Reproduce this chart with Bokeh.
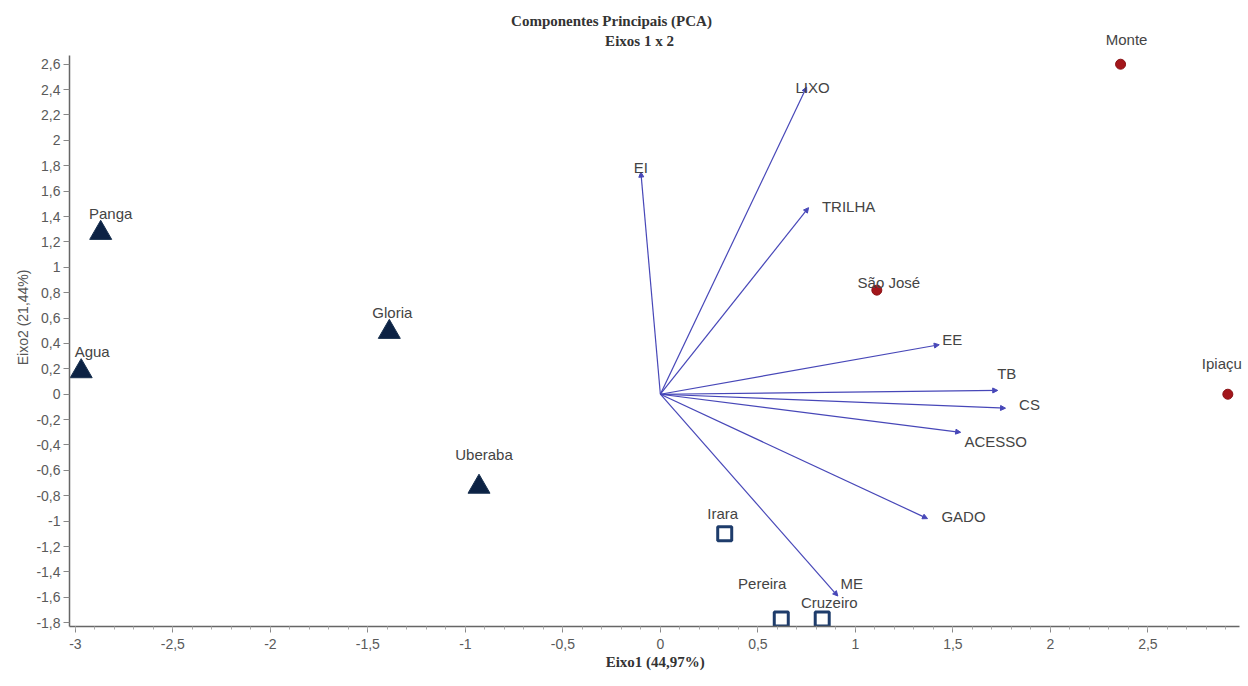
from bokeh.plotting import figure
from bokeh.models import (ColumnDataSource, Arrow, NormalHead, FixedTicker, Range1d,
                          CustomJSTickFormatter, Label, LabelSet)
from bokeh.embed import file_html
from bokeh.resources import INLINE
from bokeh.core.properties import value

# ---------------- data ----------------
# sites (scores)
site_names = ["Monte", "Ipiaçu", "São José", "Panga", "Gloria", "Agua", "Uberaba",
              "Irara", "Pereira", "Cruzeiro"]
site_x = [2.36, 2.91, 1.11, -2.87, -1.39, -2.97, -0.93, 0.33, 0.62, 0.83]
site_y = [2.60, 0.00, 0.82, 1.27, 0.49, 0.18, -0.73, -1.10, -1.77, -1.77]
site_group = ["circle", "circle", "circle", "tri", "tri", "tri", "tri", "trap", "trap", "trap"]

# variables (loadings)
var_names = ["LIXO", "EI", "TRILHA", "EE", "TB", "CS", "ACESSO", "GADO", "ME"]
var_x = [0.75, -0.10, 0.76, 1.43, 1.73, 1.77, 1.54, 1.37, 0.91]
var_y = [2.42, 1.75, 1.47, 0.39, 0.03, -0.11, -0.30, -0.98, -1.59]

x_ticks = [-3, -2.5, -2, -1.5, -1, -0.5, 0, 0.5, 1, 1.5, 2, 2.5]
y_ticks = [-1.8, -1.6, -1.4, -1.2, -1, -0.8, -0.6, -0.4, -0.2, 0, 0.2, 0.4, 0.6, 0.8,
           1, 1.2, 1.4, 1.6, 1.8, 2, 2.2, 2.4, 2.6]

# ---------------- layout / style ----------------
site_off = {  # label pixel offsets (dx, dy downward)
    "Monte": (6, -25), "Ipiaçu": (-6, -31), "São José": (12, -8), "Panga": (10, -20),
    "Gloria": (3, -20), "Agua": (11, -20), "Uberaba": (5, -32), "Irara": (-2, -20),
    "Pereira": (-19, -35), "Cruzeiro": (7, -16),
}
var_off = {
    "LIXO": (6, 0), "EI": (0, -5), "TRILHA": (40, -1), "EE": (13, -5), "TB": (9, -17),
    "CS": (24, -4), "ACESSO": (35, 9), "GADO": (36, -2), "ME": (14, -13),
}

FONT = "Liberation Sans"
SERIF = "Liberation Serif"
ARROW_C = "#4747b8"

X_BOUNDS = (-3.03, 2.97)
Y_BOUNDS = (-1.83, 2.67)

p = figure(width=1248, height=672, output_backend="svg", toolbar_location=None,
           x_range=Range1d(X_BOUNDS[0], 3.016), y_range=Range1d(Y_BOUNDS[0], 3.102),
           min_border_left=69, min_border_right=0, min_border_top=0, min_border_bottom=40)
p.title.visible = False
p.background_fill_color = "white"
p.border_fill_color = "white"
p.outline_line_color = None
p.grid.grid_line_color = None

# titles (inside the frame, screen units from the frame's bottom-left)
p.add_layout(Label(x=542, y=606, x_units="screen", y_units="screen",
                   text="Componentes Principais (PCA)", text_font=SERIF, text_font_size="15px",
                   text_font_style="bold", text_color="#333333",
                   text_align="center", text_baseline="middle"))
p.add_layout(Label(x=570, y=586, x_units="screen", y_units="screen",
                   text="Eixos 1 x 2", text_font=SERIF, text_font_size="15px",
                   text_font_style="bold", text_color="#333333",
                   text_align="center", text_baseline="middle"))

fmt = CustomJSTickFormatter(code="return tick.toFixed(1).replace('.', ',').replace(/,0$/, '');")

p.xaxis.ticker = FixedTicker(ticks=x_ticks, minor_ticks=[round(-3 + 0.1 * i, 1) for i in range(60)])
p.yaxis.ticker = FixedTicker(ticks=y_ticks)
p.xaxis.bounds = X_BOUNDS
p.yaxis.bounds = Y_BOUNDS
p.xaxis.formatter = fmt
p.yaxis.formatter = fmt
for ax in (p.xaxis, p.yaxis):
    ax.axis_line_color = "#666666"
    ax.axis_line_width = 1.5
    ax.major_tick_line_color = "#888888"
    ax.minor_tick_line_color = "#aaaaaa"
    ax.major_label_text_font = FONT
    ax.major_label_text_font_size = "14px"
    ax.major_label_text_color = "#5a5a5a"
    ax.major_tick_out = 6
    ax.major_tick_in = 0
    ax.minor_tick_out = 3
    ax.minor_tick_in = 0
p.yaxis.minor_tick_line_color = None
p.xaxis.major_label_standoff = 6
p.yaxis.major_label_standoff = 3

p.xaxis.axis_label = "Eixo1   (44,97%)"
p.xaxis.axis_label_text_font = SERIF
p.xaxis.axis_label_text_font_style = "bold"
p.xaxis.axis_label_text_font_size = "15px"
p.xaxis.axis_label_text_color = "#333333"
p.xaxis.axis_label_standoff = 2

p.yaxis.axis_label = "Eixo2   (21,44%)"
p.yaxis.axis_label_text_font = FONT
p.yaxis.axis_label_text_font_style = "normal"
p.yaxis.axis_label_text_font_size = "14px"
p.yaxis.axis_label_text_color = "#555555"
p.yaxis.axis_label_standoff = 2

# arrows
asrc = ColumnDataSource(dict(x0=[0] * len(var_x), y0=[0] * len(var_y), x1=var_x, y1=var_y))
p.add_layout(Arrow(source=asrc, x_start="x0", y_start="y0", x_end="x1", y_end="y1",
                   line_color=ARROW_C, line_width=1.2,
                   end=NormalHead(size=5, fill_color=ARROW_C, line_color=ARROW_C)))

vsrc = ColumnDataSource(dict(x=var_x, y=var_y, t=var_names,
                             dx=[var_off[n][0] for n in var_names],
                             dy=[-var_off[n][1] for n in var_names]))
p.add_layout(LabelSet(x="x", y="y", text="t", source=vsrc, x_offset="dx", y_offset="dy",
                      text_font=value(FONT), text_font_size="15px", text_color="#444444",
                      text_align="center", text_baseline="middle"))

# sites
def sub(group):
    idx = [i for i, g in enumerate(site_group) if g == group]
    return ColumnDataSource(dict(x=[site_x[i] for i in idx], y=[site_y[i] for i in idx]))

s_tri, s_cir, s_trap = sub("tri"), sub("circle"), sub("trap")
p.scatter("x", "y", source=s_tri, marker="triangle", size=22,
          fill_color="#0c2244", line_color="#18304f", line_width=1)
p.scatter("x", "y", source=s_cir, marker="circle", size=10,
          fill_color="#a3161b", line_color="#8a1216")
p.scatter("x", "y", source=s_trap, marker="square", size=14,
          fill_color="white", line_color="#1e3c6b", line_width=3)

all_src = ColumnDataSource(dict(x=site_x, y=site_y, t=site_names,
                                dx=[site_off[n][0] for n in site_names],
                                dy=[-site_off[n][1] for n in site_names]))
p.add_layout(LabelSet(x="x", y="y", text="t", source=all_src, x_offset="dx", y_offset="dy",
                      text_font=value(FONT), text_font_size="15px", text_color="#444444",
                      text_align="center", text_baseline="middle"))

open("out.html", "w").write(file_html(p, INLINE))
